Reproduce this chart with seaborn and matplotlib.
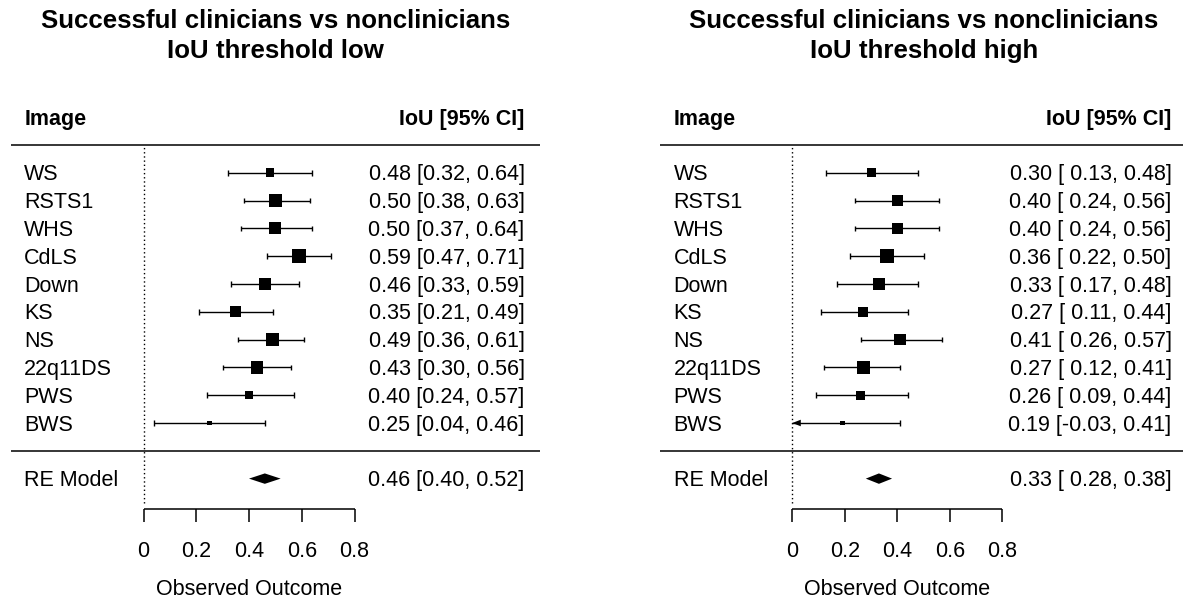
import numpy as np
import pandas as pd
import matplotlib
matplotlib.use("Agg")
import matplotlib.pyplot as plt
import seaborn as sns

# ---- data -----------------------------------------------------------------
studies = ["WS", "RSTS1", "WHS", "CdLS", "Down", "KS", "NS", "22q11DS", "PWS", "BWS"]

low_est = [0.48, 0.50, 0.50, 0.59, 0.46, 0.35, 0.49, 0.43, 0.40, 0.25]
low_lb = [0.32, 0.38, 0.37, 0.47, 0.33, 0.21, 0.36, 0.30, 0.24, 0.04]
low_ub = [0.64, 0.63, 0.64, 0.71, 0.59, 0.49, 0.61, 0.56, 0.57, 0.46]
low_re = [0.46, 0.40, 0.52]          # estimate, lower, upper

high_est = [0.30, 0.40, 0.40, 0.36, 0.33, 0.27, 0.41, 0.27, 0.26, 0.19]
high_lb = [0.13, 0.24, 0.24, 0.22, 0.17, 0.11, 0.26, 0.12, 0.09, -0.03]
high_ub = [0.48, 0.56, 0.56, 0.50, 0.48, 0.44, 0.57, 0.41, 0.44, 0.41]
high_re = [0.33, 0.28, 0.38]

axis_ticks = [0, 0.2, 0.4, 0.6, 0.8]
title_line1 = "Successful clinicians vs nonclinicians"
titles_line2 = ["IoU threshold low", "IoU threshold high"]
summary_label = "RE Model"
col_left = "Image"
col_right = "IoU [95% CI]"
xlabel = "Observed Outcome"

# ---- layout ---------------------------------------------------------------
W, H = 1183, 602
sns.set_style("white")
plt.rcParams["font.family"] = ["Liberation Sans", "DejaVu Sans"]
plt.rcParams["text.color"] = "black"

BODY = 15.5
TITLE = 18.6
ROW_PX = 27.81            # pixels per row
ROW1_PY = 423.0           # pixel y of row 1
CAP_HALF = 7.6            # half cap height of body text, px
LW = 1.0


def row_of(py):
    return 1 + (ROW1_PY - py) / ROW_PX


fig = plt.figure(figsize=(W / 100, H / 100), dpi=100)

panels = [
    dict(est=low_est, lb=low_lb, ub=low_ub, re=low_re, sub=titles_line2[0],
         px0=0, px1=591, zero=143.5, ppu=263.75),
    dict(est=high_est, lb=high_lb, ub=high_ub, re=high_re, sub=titles_line2[1],
         px0=591, px1=1183, zero=792.3, ppu=262.5),
]

xlim_plot = (-0.504, 1.505)
alim = (axis_ticks[0], axis_ticks[-1])
lab_x = -0.452
txt_x = 1.445
k = len(studies)
rows = np.arange(k, 0, -1)

for p in panels:
    ax = fig.add_axes([p["px0"] / W, 0, (p["px1"] - p["px0"]) / W, 1])
    ax.set_axis_off()
    ppu = p["ppu"]
    est = np.array(p["est"])
    lb = np.array(p["lb"])
    ub = np.array(p["ub"])
    re_est, re_lb, re_ub = p["re"]

    # square sizes from inverse standard errors (as in metafor)
    wi = 1.0 / (ub - lb)
    psize = (wi - wi.min()) / (wi.max() - wi.min()) * 1.0 + 0.5
    side_pt = 6.84
    area = psize ** 2
    df = pd.DataFrame({"est": est, "row": rows, "area": area})

    # horizontal separators and reference line
    ax.hlines([k + 1, 0], xlim_plot[0], xlim_plot[1], color="black",
              lw=1.1, clip_on=False)
    ax.vlines(0, -1.88, k + 1, color="black", lw=1.0,
              linestyles=(0, (1.0, 2.0)), zorder=1)

    # confidence intervals
    lo = np.maximum(lb, alim[0])
    hi = np.minimum(ub, alim[1])
    ax.hlines(rows, lo, hi, color="black", lw=LW, zorder=2)
    cap = 2.8 / ROW_PX
    al, ah = 8.5 / ppu, 3.3 / ROW_PX
    for r, l, u in zip(rows, lb, ub):
        if l >= alim[0]:
            ax.vlines(l, r - cap, r + cap, color="black", lw=LW)
        else:
            ax.fill([alim[0], alim[0] + al, alim[0] + al],
                    [r, r + ah, r - ah], color="black", lw=0, zorder=3)
        if u <= alim[1]:
            ax.vlines(u, r - cap, r + cap, color="black", lw=LW)
        else:
            ax.fill([alim[1], alim[1] - al, alim[1] - al],
                    [r, r + ah, r - ah], color="black", lw=0, zorder=3)

    sns.scatterplot(data=df, x="est", y="row", size="area",
                    sizes=((side_pt * 0.5) ** 2, (side_pt * 1.5) ** 2),
                    size_norm=(0.25, 2.25), marker="s", color="black",
                    linewidth=0, legend=False, ax=ax, zorder=4)

    # summary diamond
    dh = 5.2 / ROW_PX
    ax.fill([re_lb, re_est, re_ub, re_est], [-1, -1 + dh, -1, -1 - dh],
            color="black", lw=0, zorder=4)

    # text columns
    base = CAP_HALF / ROW_PX
    w_lb = max(len(f"{v:.2f}") for v in list(lb) + [re_lb])
    w_ub = max(len(f"{v:.2f}") for v in list(ub) + [re_ub])

    def fmt(e, l, u):
        return f"{e:.2f} [{l:{w_lb}.2f}, {u:{w_ub}.2f}]"

    for r, name, e, l, u in zip(rows, studies, est, lb, ub):
        ax.text(lab_x, r - base, name, ha="left", va="baseline", fontsize=BODY)
        ax.text(txt_x, r - base, fmt(e, l, u), ha="right", va="baseline",
                fontsize=BODY)
    ax.text(lab_x, -1 - base, summary_label, ha="left", va="baseline",
            fontsize=BODY)
    ax.text(txt_x, -1 - base, fmt(re_est, re_lb, re_ub), ha="right",
            va="baseline", fontsize=BODY)
    ax.text(lab_x, k + 2 - base, col_left, ha="left", va="baseline",
            fontsize=BODY, fontweight="bold")
    ax.text(txt_x, k + 2 - base, col_right, ha="right", va="baseline",
            fontsize=BODY, fontweight="bold")

    # x axis
    ax_row = row_of(509.3)
    tick_end = row_of(521.7)
    ax.hlines(ax_row, alim[0], alim[1], color="black", lw=1.1)
    ax.vlines(axis_ticks, tick_end, ax_row, color="black", lw=1.1)
    for t in axis_ticks:
        ax.text(t, row_of(549 + CAP_HALF), f"{t:g}", ha="center",
                va="baseline", fontsize=BODY)
    ax.text(np.mean(alim), row_of(595.3), xlabel, ha="center",
            va="baseline", fontsize=BODY)

    # title
    xc = np.mean(xlim_plot)
    ax.text(xc, row_of(28.3), title_line1, ha="center", va="baseline",
            fontsize=TITLE, fontweight="bold")
    ax.text(xc, row_of(58.3), p["sub"], ha="center", va="baseline",
            fontsize=TITLE, fontweight="bold")

    ax.set_xlim((p["px0"] - p["zero"]) / ppu, (p["px1"] - p["zero"]) / ppu)
    ax.set_ylim(row_of(H), row_of(0))

fig.savefig("out.png", dpi=100, facecolor="white")
